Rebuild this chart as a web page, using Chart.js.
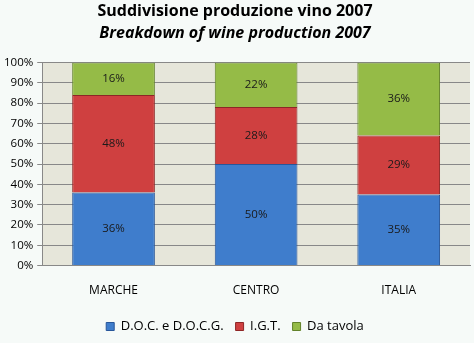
<!DOCTYPE html>
<html>
<head>
    <title>Suddivisione produzione vino 2007</title>
    <script src="https://cdn.jsdelivr.net/npm/chart.js@4.4.0/dist/chart.umd.min.js"></script>
    <style>
        html, body { margin: 0; padding: 0; background: #f6faf8; }
        #wrap { width: 474px; height: 343px; }
    </style>
</head>
<body>
    <div id="wrap"><canvas id="grafico"></canvas></div>
    <script>
        // dati
        const regioni = ['MARCHE', 'CENTRO', 'ITALIA'];
        const docDocg = [36, 50, 35];
        const igt = [48, 28, 29];
        const daTavola = [16, 22, 36];
        const tickY = ['0%', '10%', '20%', '30%', '40%', '50%', '60%', '70%', '80%', '90%', '100%'];

        const fontBase = "'Open Sans', 'DejaVu Sans', sans-serif";

        // sfondo dell'area del grafico
        const sfondoArea = {
            id: 'sfondoArea',
            beforeDraw(chart) {
                const { ctx, chartArea: a } = chart;
                ctx.save();
                ctx.fillStyle = '#e6e6da';
                ctx.fillRect(a.left, a.top, a.right - a.left, a.bottom - a.top);
                ctx.restore();
            }
        };

        // etichette percentuali al centro dei segmenti
        const etichette = {
            id: 'etichette',
            afterDatasetsDraw(chart) {
                const ctx = chart.ctx;
                ctx.save();
                ctx.font = "11.5px " + fontBase;
                ctx.fillStyle = '#1a1a1a';
                ctx.textAlign = 'center';
                ctx.textBaseline = 'middle';
                chart.data.datasets.forEach((ds, i) => {
                    chart.getDatasetMeta(i).data.forEach((bar, j) => {
                        const y = (bar.y + bar.base) / 2;
                        ctx.fillText(ds.data[j] + '%', bar.x, y);
                    });
                });
                ctx.restore();
            }
        };

        new Chart(document.getElementById('grafico'), {
            type: 'bar',
            data: {
                labels: regioni,
                datasets: [
                    { label: 'D.O.C. e D.O.C.G.', data: docDocg, backgroundColor: '#3f7dcc', borderColor: '#28569a', borderWidth: 1 },
                    { label: 'I.G.T.', data: igt, backgroundColor: '#cf4040', borderColor: '#8e2626', borderWidth: 1 },
                    { label: 'Da tavola', data: daTavola, backgroundColor: '#95bb47', borderColor: '#62822a', borderWidth: 1 }
                ]
            },
            options: {
                responsive: true,
                maintainAspectRatio: false,
                animation: false,
                layout: { padding: { left: 0, right: 4, top: 0, bottom: 0 } },
                datasets: { bar: { categoryPercentage: 0.58, barPercentage: 1.0 } },
                plugins: {
                    title: {
                        display: true,
                        text: 'Suddivisione produzione vino 2007',
                        color: '#000',
                        font: { family: fontBase, size: 16, weight: 'bold' },
                        padding: { top: 2, bottom: 0 }
                    },
                    subtitle: {
                        display: true,
                        text: 'Breakdown of wine production 2007',
                        color: '#000',
                        font: { family: fontBase, size: 16, weight: 'bold', style: 'italic' },
                        padding: { top: 3, bottom: 19 }
                    },
                    legend: {
                        position: 'bottom',
                        labels: {
                            color: '#000',
                            font: { family: fontBase, size: 13 },
                            boxWidth: 8,
                            boxHeight: 8,
                            padding: 12
                        }
                    },
                    tooltip: { enabled: false }
                },
                scales: {
                    x: {
                        stacked: true,
                        grid: { display: false },
                        border: { color: '#888', width: 1 },
                        ticks: { color: '#000', font: { family: fontBase, size: 12 }, padding: 10 }
                    },
                    y: {
                        stacked: true,
                        min: 0,
                        max: 100,
                        grid: { color: '#888', lineWidth: 1, drawTicks: true, tickLength: 5 },
                        border: { color: '#888', width: 1 },
                        ticks: {
                            stepSize: 10,
                            color: '#000',
                            font: { family: fontBase, size: 11.5 },
                            padding: 4,
                            callback: (v, i) => tickY[i]
                        }
                    }
                }
            },
            plugins: [sfondoArea, etichette]
        });
    </script>
</body>
</html>
